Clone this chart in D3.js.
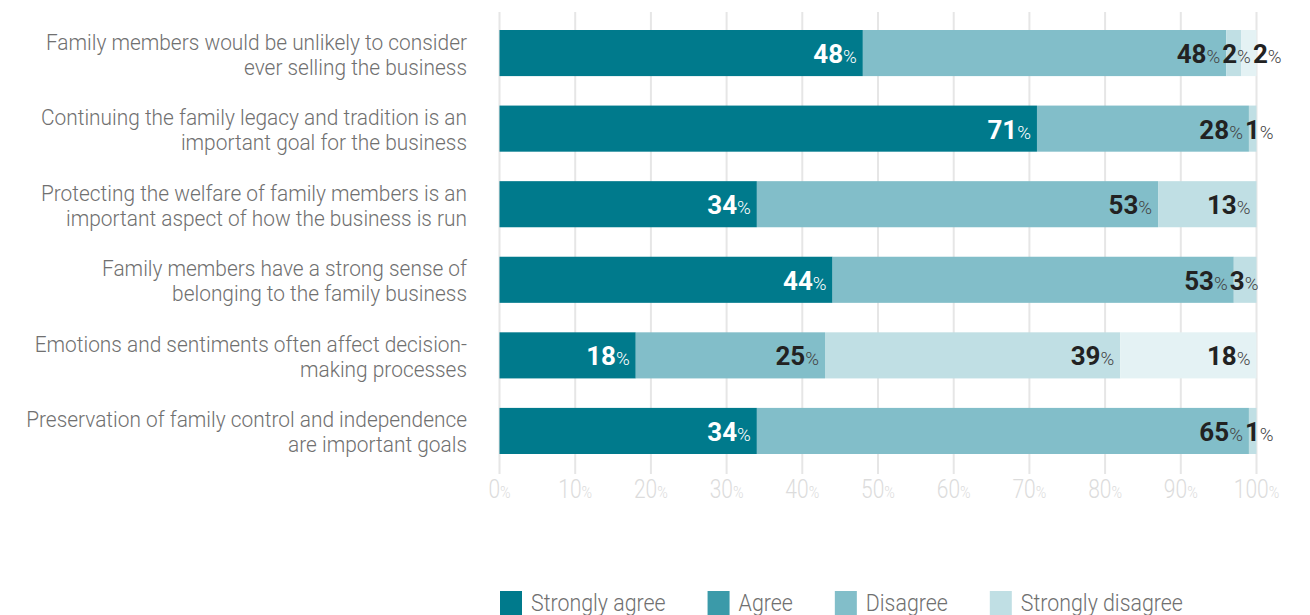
<!DOCTYPE html>
<html>
<head>
<meta charset="utf-8">
<script src="https://cdn.jsdelivr.net/npm/d3@7"></script>
<style>
  body { margin: 0; background: #fff; }
  svg { display: block; }
</style>
</head>
<body>
<svg id="chart" width="1310" height="615"></svg>
<script>
"use strict";

// statements, split in two lines as in the source
const categories = [
  ["Family members would be unlikely to consider", "ever selling the business"],
  ["Continuing the family legacy and tradition is an", "important goal for the business"],
  ["Protecting the welfare of family members is an", "important aspect of how the business is run"],
  ["Family members have a strong sense of", "belonging to the family business"],
  ["Emotions and sentiments often affect decision-", "making processes"],
  ["Preservation of family control and independence", "are important goals"]
];

const seriesNames = ["Strongly agree", "Agree", "Disagree", "Strongly disagree"];
const stronglyAgree    = [48, 71, 34, 44, 18, 34];
const agree            = [48, 28, 53, 53, 25, 65];
const disagree         = [2, 1, 13, 3, 39, 1];
const stronglyDisagree = [2, 0, 0, 0, 18, 0];

const tickValues = [0, 10, 20, 30, 40, 50, 60, 70, 80, 90, 100];

const barColors = ["#007a8c", "#82bec9", "#c0dfe4", "#e4f2f4"];
const legendColors = ["#007a8c", "#3b9aa9", "#82bec9", "#c0dfe4"];

(function() {
  const svg = d3.select("#chart");
  const FONT = "Roboto, 'Noto Sans', sans-serif";
  const TICK_NARROW = 0.84;   // squeeze to mimic the condensed face
  const CAT_NARROW = 0.95;
  const LEG_NARROW = 0.89;
  const NUM_NARROW = 0.98;

  // place a text with a horizontal squeeze
  function place(sel, px, py, sx) {
    return sel.attr("transform", "translate(" + px + "," + py + ") scale(" + sx + ",1)");
  }

  const rows = categories.map((c, i) => ({
    i: i,
    s0: stronglyAgree[i], s1: agree[i], s2: disagree[i], s3: stronglyDisagree[i]
  }));
  const keys = ["s0", "s1", "s2", "s3"];
  const stacked = d3.stack().keys(keys)(rows);

  const x = d3.scaleLinear().domain([0, 100]).range([499.5, 1256.5]);
  const y = d3.scaleBand().domain(d3.range(categories.length))
    .range([30, 454]).paddingInner(0.39).paddingOuter(0);

  // gridlines
  svg.append("g")
    .selectAll("line")
    .data(tickValues)
    .join("line")
      .attr("x1", d => x(d)).attr("x2", d => x(d))
      .attr("y1", 12).attr("y2", 474)
      .attr("stroke", "#e6e6e6")
      .attr("stroke-width", 2);

  // tick labels
  const tickText = svg.append("g")
    .selectAll("text")
    .data(tickValues)
    .join("text")
      .attr("text-anchor", "middle")
      .attr("font-family", FONT)
      .attr("font-weight", 300)
      .attr("fill", "#dcdcdc")
      .each(function(d) { place(d3.select(this), x(d), 498, TICK_NARROW); });
  tickText.append("tspan").attr("font-size", 25).text(d => d);
  tickText.append("tspan").attr("font-size", 17).text("%");

  // bars
  svg.append("g")
    .selectAll("g")
    .data(stacked)
    .join("g")
      .attr("fill", (d, k) => barColors[k])
    .selectAll("rect")
    .data(d => d)
    .join("rect")
      .attr("x", d => x(d[0]))
      .attr("y", (d, j) => y(j))
      .attr("width", d => x(d[1]) - x(d[0]))
      .attr("height", y.bandwidth());

  // value labels, pushed right when they would overlap
  const labelLayer = svg.append("g");
  rows.forEach((row, j) => {
    let prevEnd = -Infinity;
    stacked.forEach((layer, k) => {
      const seg = layer[j];
      const v = seg[1] - seg[0];
      if (v <= 0) return;
      const t = labelLayer.append("text")
        .attr("font-family", FONT);
      t.append("tspan")
        .attr("font-size", 26.5)
        .attr("font-weight", "bold")
        .attr("fill", k === 0 ? "#fff" : "#222")
        .text(v);
      t.append("tspan")
        .attr("font-size", 19)
        .attr("font-weight", 300)
        .attr("fill", k === 0 ? "#fff" : "#444")
        .text("%");
      const w = t.node().getComputedTextLength() * NUM_NARROW;
      let start = x(seg[1]) - 6 - w;
      if (start < prevEnd + 2) start = prevEnd + 2;
      place(t, start, y(j) + y.bandwidth() / 2 + 10, NUM_NARROW);
      prevEnd = start + w;
    });
  });

  // category labels
  categories.forEach((lines, i) => {
    lines.forEach((line, n) => {
      const t = svg.append("text")
        .attr("text-anchor", "end")
        .attr("font-family", FONT)
        .attr("font-weight", 300)
        .attr("font-size", 22)
        .attr("fill", "#707070")
        .text(line);
      place(t, 467, y(i) + y.bandwidth() / 2 + (n === 0 ? -3.5 : 21.5), CAT_NARROW);
    });
  });

  // legend
  const legend = svg.append("g");
  let lx = 500;
  seriesNames.forEach((name, k) => {
    legend.append("rect")
      .attr("x", lx).attr("y", 591)
      .attr("width", 22).attr("height", 24)
      .attr("fill", legendColors[k]);
    const t = legend.append("text")
      .attr("font-family", FONT)
      .attr("font-weight", 300)
      .attr("font-size", 24)
      .attr("fill", "#707070")
      .text(name);
    place(t, lx + 31, 611, LEG_NARROW);
    lx += 31 + t.node().getComputedTextLength() * LEG_NARROW + 42;
  });
})();
</script>
</body>
</html>
